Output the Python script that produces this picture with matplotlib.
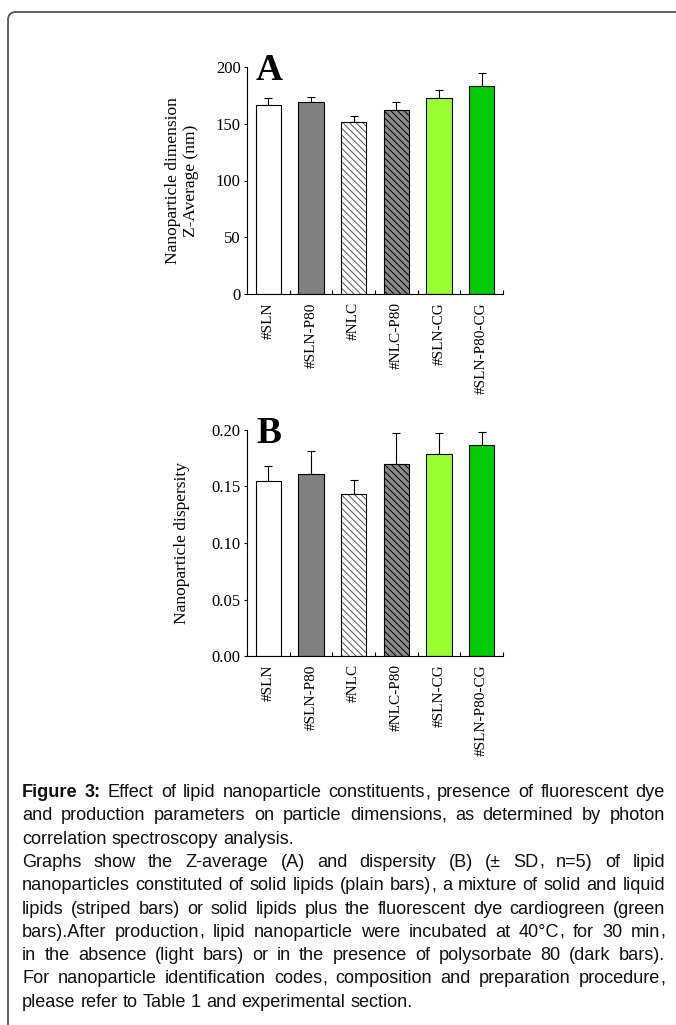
import numpy as np
import matplotlib
matplotlib.use("Agg")
import matplotlib.pyplot as plt
from matplotlib.patches import FancyBboxPatch

# =========================
# DATA
# =========================
muestras = ["#SLN", "#SLN-P80", "#NLC", "#NLC-P80", "#SLN-CG", "#SLN-P80-CG"]
z_average = [166.5, 169.4, 151.8, 162.4, 172.6, 183.5]
z_sd = [6.0, 4.0, 5.0, 6.7, 7.0, 11.5]
dispersity = [0.155, 0.161, 0.143, 0.170, 0.179, 0.187]
dispersity_sd = [0.013, 0.020, 0.013, 0.027, 0.018, 0.011]

colores = ["white", "#808080", "white", "#8a8a8a", "#99ff33", "#00cc00"]
rayado = [None, None, "\\" * 5, "\\" * 5, None, None]
color_rayado = ["black", "black", "#555555", "black", "black", "black"]

caption_lines = [
    [("Figure 3:", "bold"), ("Effect of lipid nanoparticle constituents, presence of fluorescent dye", "normal")],
    [("and production parameters on particle dimensions, as determined by photon", "normal")],
    [("correlation spectroscopy analysis.", "normal")],
    [("Graphs show the Z-average (A) and dispersity (B) (\u00b1 SD, n=5) of lipid", "normal")],
    [("nanoparticles constituted of solid lipids (plain bars), a mixture of solid and liquid", "normal")],
    [("lipids (striped bars) or solid lipids plus the fluorescent dye cardiogreen (green", "normal")],
    [("bars).After production, lipid nanoparticle were incubated at 40\u00b0C, for 30 min,", "normal")],
    [("in the absence (light bars) or in the presence of polysorbate 80 (dark bars).", "normal")],
    [("For nanoparticle identification codes, composition and preparation procedure,", "normal")],
    [("please refer to Table 1 and experimental section.", "normal")],
]
justificar = [True, True, False, True, True, True, True, True, True, False]

# =========================
# FIGURE
# =========================
W, H = 676, 1025
fig = plt.figure(figsize=(W / 100, H / 100), dpi=100)
plt.rcParams["hatch.linewidth"] = 0.7

serif = ["Liberation Serif", "DejaVu Serif"]
sans = ["Liberation Sans", "DejaVu Sans"]


def fx(px):
    return px / W


def fy(py):
    return 1 - py / H


# marco redondeado (cortado a la derecha y abajo)
marco = FancyBboxPatch((fx(8), fy(H + 30)), fx(W + 40), (H + 30 - 12) / H,
                       boxstyle="round,pad=0,rounding_size=0.012",
                       transform=fig.transFigure, facecolor="none",
                       edgecolor="#555555", linewidth=1.3, mutation_aspect=W / H)
fig.patches.append(marco)


def panel(top_px, bottom_px, valores, sd, ymax, yticks, fmt, letra, ylabel):
    ax = fig.add_axes([fx(247), fy(bottom_px), fx(503) - fx(247), fy(top_px) - fy(bottom_px)])
    x = np.arange(len(muestras))
    ax.bar(x, valores, width=0.6, color=colores, hatch=rayado,
           edgecolor=color_rayado, linewidth=0, zorder=2)
    ax.bar(x, valores, width=0.6, fill=False, edgecolor="black", linewidth=0.8, zorder=3)
    ax.errorbar(x, valores, yerr=[np.zeros(len(sd)), sd], fmt="none",
                ecolor="black", elinewidth=0.8, capsize=3, capthick=0.8, zorder=1)
    ax.set_xlim(-0.5, 5.5)
    ax.set_ylim(0, ymax)
    ax.spines["top"].set_visible(False)
    ax.spines["right"].set_visible(False)
    ax.spines["left"].set_linewidth(0.8)
    ax.spines["bottom"].set_linewidth(0.8)
    ax.set_yticks(yticks)
    ax.set_yticklabels([fmt % v for v in yticks], fontfamily=serif, fontsize=12)
    ax.tick_params(axis="y", direction="out", length=2.5, width=0.8, pad=2)
    ax.set_xticks(x)
    ax.set_xticklabels(muestras, rotation=90, fontfamily=serif, fontsize=11)
    ax.tick_params(axis="x", length=0, pad=6)
    ax.set_xticks(np.arange(0.5, 6, 1), minor=True)
    ax.tick_params(axis="x", which="minor", direction="in", length=3, width=0.8)
    ax.patch.set_alpha(0)

    fig.text(fx(256), fy(top_px + 13), letra, fontfamily=serif, fontweight="bold",
             fontsize=27, ha="left", va="baseline")
    fig.text(fx(182), fy((top_px + bottom_px) / 2), ylabel, rotation=90,
             fontfamily=serif, fontsize=12.5, ha="center", va="center",
             multialignment="center", linespacing=1.1)
    return ax


panel(67, 294, z_average, z_sd, 200, [0, 50, 100, 150, 200], "%d", "A",
      "Nanoparticle dimension\nZ-Average (nm)")
panel(430, 656, dispersity, dispersity_sd, 0.20, [0.0, 0.05, 0.10, 0.15, 0.20], "%.2f", "B",
      "Nanoparticle dispersity")

# =========================
# CAPTION (justified)
# =========================
renderer = fig.canvas.get_renderer()


def medir(texto, peso, size):
    t = fig.text(0, 0, texto, fontfamily=sans, fontweight=peso, fontsize=size)
    w = t.get_window_extent(renderer).width
    t.remove()
    return w


def palabras(linea):
    out = []
    for texto, peso in linea:
        out += [(p, peso) for p in texto.split(" ")]
    return out


def escribir(x, y, texto, peso, size):
    fig.text(fx(x), fy(y), texto, fontfamily=sans, fontweight=peso, fontsize=size,
             ha="left", va="baseline", color="#111111")


# tamaño que hace que la línea más larga quepa en el ancho
x0, x1 = 22, 665
ref = 10.0
esp_ref = medir("a a", "normal", ref) - 2 * medir("a", "normal", ref)
natural = max(sum(medir(p, w, ref) for p, w in palabras(l)) + esp_ref * (len(palabras(l)) - 1)
              for l in caption_lines)
size = min(ref * (x1 - x0) / natural * 0.995, 13.5)

espacio = medir("a a", "normal", size) - 2 * medir("a", "normal", size)
for i, linea in enumerate(caption_lines):
    base = 797 + 23.3 * i
    ws = palabras(linea)
    anchos = [medir(p, w, size) for p, w in ws]
    if justificar[i] and len(ws) > 1:
        gap = (x1 - x0 - sum(anchos)) / (len(ws) - 1)
    else:
        gap = espacio
    x = x0
    for (p, w), a in zip(ws, anchos):
        # la coma final va aparte para que la palabra quede en su línea base
        if p.endswith(",") and len(p) > 1:
            nucleo = p[:-1]
            escribir(x, base, nucleo, w, size)
            escribir(x + medir(nucleo, w, size), base, ",", w, size)
        else:
            escribir(x, base, p, w, size)
        x += a + gap

fig.savefig("out.png", dpi=100)
